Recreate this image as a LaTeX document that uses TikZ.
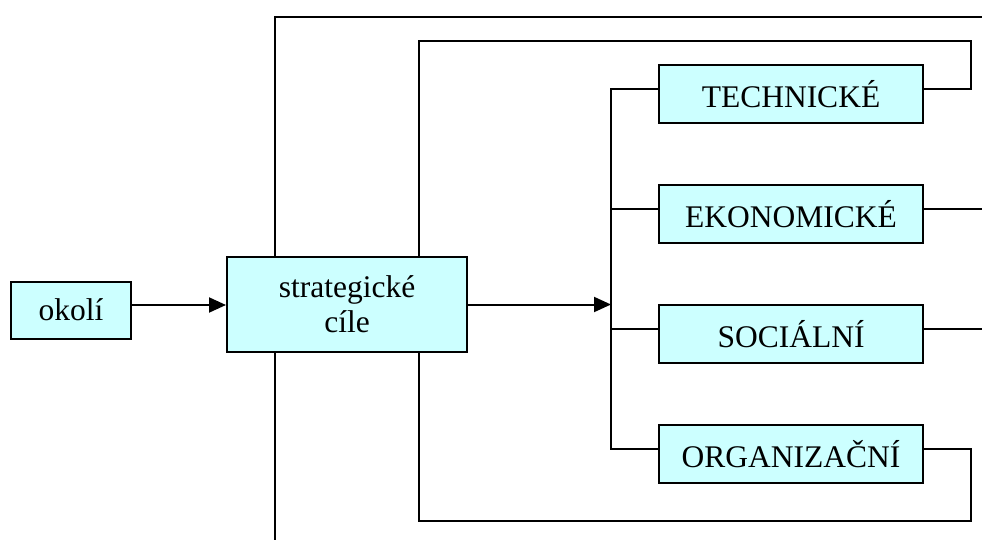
\documentclass[tikz,border=0pt]{standalone}
\usepackage{fontspec}
\setmainfont{Liberation Serif}
\usetikzlibrary{arrows.meta}
\definecolor{boxfill}{HTML}{CCFFFF}
\tikzset{
  box/.style={draw=black, line width=2pt, fill=boxfill, inner sep=0pt,
              align=center, font=\fontsize{31.5}{35}\selectfont},
  wire/.style={line width=2pt, line cap=rect},
  arr/.style={line width=2pt, -{Triangle[length=17pt,width=15pt]}},
}
\begin{document}
\begin{tikzpicture}[x=1pt, y=-1pt]
\useasboundingbox (0,0) rectangle (982,540);

% boxes
\node[box, minimum width=120pt, minimum height=57pt] (ok) at (71,310) {okolí};
\node[box, minimum width=240pt, minimum height=95pt] (sc) at (347,304.5) {strategické\\cíle};
\node[box, minimum width=264pt, minimum height=58pt] (tech) at (791,94)  {TECHNICKÉ};
\node[box, minimum width=264pt, minimum height=58pt] (eko)  at (791,214) {EKONOMICKÉ};
\node[box, minimum width=264pt, minimum height=58pt] (soc)  at (791,334) {SOCIÁLNÍ};
\node[box, minimum width=264pt, minimum height=58pt] (org)  at (791,454) {ORGANIZAČNÍ};

% helper points of the wiring
\coordinate (topL) at (275,17);
\coordinate (topR) at (982,17);
\coordinate (inL)  at (419,41);
\coordinate (inR)  at (971,41);
\coordinate (botL) at (275,540);
\coordinate (binL) at (419,521);
\coordinate (binR) at (971,521);
\coordinate (bus)  at (611,304.5);
\coordinate (edge) at (982,0);

% input arrow
\draw[arr] ([yshift=5pt]ok.east) -- ([yshift=5pt]ok.east -| sc.west);

% outer loops above and below
\draw[wire] (sc.north -| topL) -- (topL) -- (topR);
\draw[wire] (sc.south -| botL) -- (botL);
\draw[wire] (sc.north -| inL) -- (inL) -- (inR) |- ([yshift=5pt]tech.east);
\draw[wire] (sc.south -| binL) -- (binL) -- (binR) |- ([yshift=5pt]org.east);

% distribution bus
\draw[arr] (sc.east) -- (bus);
\draw[wire] ([yshift=5pt]tech.west) -| (bus) |- ([yshift=5pt]org.west);
\draw[wire] ([yshift=5pt]eko.west) -- ([yshift=5pt]eko.west -| bus);
\draw[wire] ([yshift=5pt]soc.west) -- ([yshift=5pt]soc.west -| bus);

% outputs leaving to the right
\draw[wire] ([yshift=5pt]eko.east) -- ([yshift=5pt]eko.east -| edge);
\draw[wire] ([yshift=5pt]soc.east) -- ([yshift=5pt]soc.east -| edge);
\end{tikzpicture}
\end{document}
